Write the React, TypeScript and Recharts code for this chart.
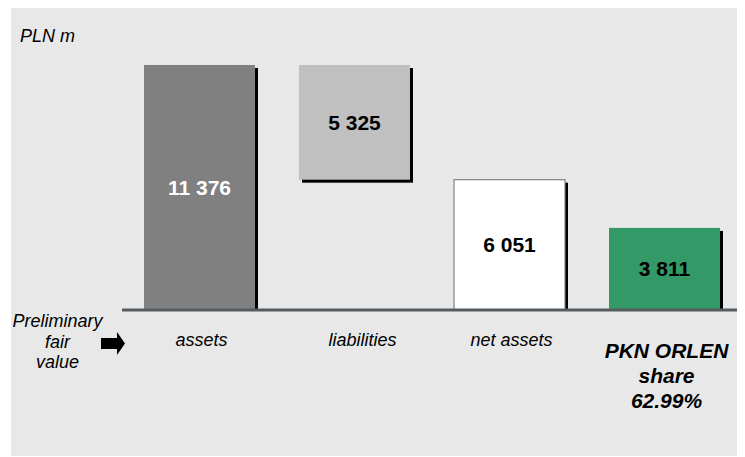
import React from 'react';
import { BarChart, Bar, XAxis, YAxis, LabelList } from 'recharts';

const categories = ['assets', 'liabilities', 'net assets', 'PKN ORLEN share 62.99%'];
const tickLabels = [['assets'], ['liabilities'], ['net assets'], ['PKN ORLEN', 'share', '62.99%']];
const values = [11376, 5325, 6051, 3811];
const bases = [0, 6051, 0, 0];
const barColors = ['#808080', '#c0c0c0', '#ffffff', '#339966'];
const valueLabelColors = ['#ffffff', '#000000', '#000000', '#000000'];
const unitLabel = 'PLN m';
const sideLabel = ['Preliminary', 'fair', 'value'];

const data = categories.map((name, i) => ({ name, base: bases[i], value: values[i] }));
const maxValue = Math.max(...data.map((d) => d.base + d.value));

const FONT = '"Liberation Sans", Arial, sans-serif';
const W = 734;
const H = 448;

const fmt = (v: number) => String(v).replace(/\B(?=(\d{3})+(?!\d))/g, ' ');

const ShadowBar = (props: any) => {
  const { x, y, width, height, index, payload } = props;
  const grounded = payload && payload.base === 0;
  const color = barColors[index];
  const bordered = color === '#ffffff';
  return (
    <g>
      <rect x={x + 3} y={y + 3} width={width} height={grounded ? height - 3 : height} fill="#000" />
      <rect
        x={x}
        y={y}
        width={width}
        height={height}
        fill={color}
        stroke={bordered ? '#808080' : 'none'}
        strokeWidth={bordered ? 1.2 : 0}
      />
    </g>
  );
};

const ValueLabel = (props: any) => {
  const { x, y, width, height, index, value } = props;
  return (
    <text
      x={x + width / 2}
      y={y + height / 2 + 7.5}
      textAnchor="middle"
      fontFamily={FONT}
      fontWeight="bold"
      fontSize={21}
      fill={valueLabelColors[index]}
    >
      {fmt(value)}
    </text>
  );
};

const CategoryTick = (props: any) => {
  const { x, y, index } = props;
  const lines = tickLabels[index];
  const strong = lines.length > 1;
  const dx = index === 1 ? 8 : 2;
  return (
    <g>
      {lines.map((line, i) => (
        <text
          key={i}
          x={x + dx}
          y={y + (strong ? 48 + i * 25 : 36)}
          textAnchor="middle"
          fontFamily={FONT}
          fontStyle="italic"
          fontWeight={strong ? 'bold' : 'normal'}
          fontSize={strong ? 21 : 18}
          fill="#000"
        >
          {line}
        </text>
      ))}
    </g>
  );
};

export default function App() {
  return (
    <div style={{ position: 'relative', marginLeft: 3, width: W, height: H, background: '#e8e8e8' }}>
      <BarChart
        width={W}
        height={H}
        data={data}
        margin={{ top: 57, right: 3, bottom: 0, left: 111 }}
        barSize={111}
      >
        <YAxis hide domain={[0, maxValue]} allowDataOverflow />
        <XAxis
          dataKey="name"
          height={146}
          tickLine={false}
          tickSize={0}
          tickMargin={0}
          axisLine={{ stroke: '#565b5f', strokeWidth: 3 }}
          tick={<CategoryTick />}
          interval={0}
        />
        <Bar dataKey="base" stackId="a" fill="transparent" isAnimationActive={false} />
        <Bar dataKey="value" stackId="a" shape={<ShadowBar />} isAnimationActive={false}>
          <LabelList dataKey="value" content={<ValueLabel />} />
        </Bar>
      </BarChart>
      <svg
        width={W}
        height={H}
        style={{ position: 'absolute', left: 0, top: 0, pointerEvents: 'none' }}
      >
        <text x={9} y={34} fontFamily={FONT} fontStyle="italic" fontSize={18} fill="#000">
          {unitLabel}
        </text>
        {sideLabel.map((line, i) => (
          <text
            key={i}
            x={46.5}
            y={[319, 340, 360][i]}
            textAnchor="middle"
            fontFamily={FONT}
            fontStyle="italic"
            fontSize={18}
            fill="#000"
          >
            {line}
          </text>
        ))}
        <polygon
          points="90,330 106,330 106,324 114,335.5 106,347 106,341 90,341"
          fill="#000"
        />
      </svg>
    </div>
  );
}
